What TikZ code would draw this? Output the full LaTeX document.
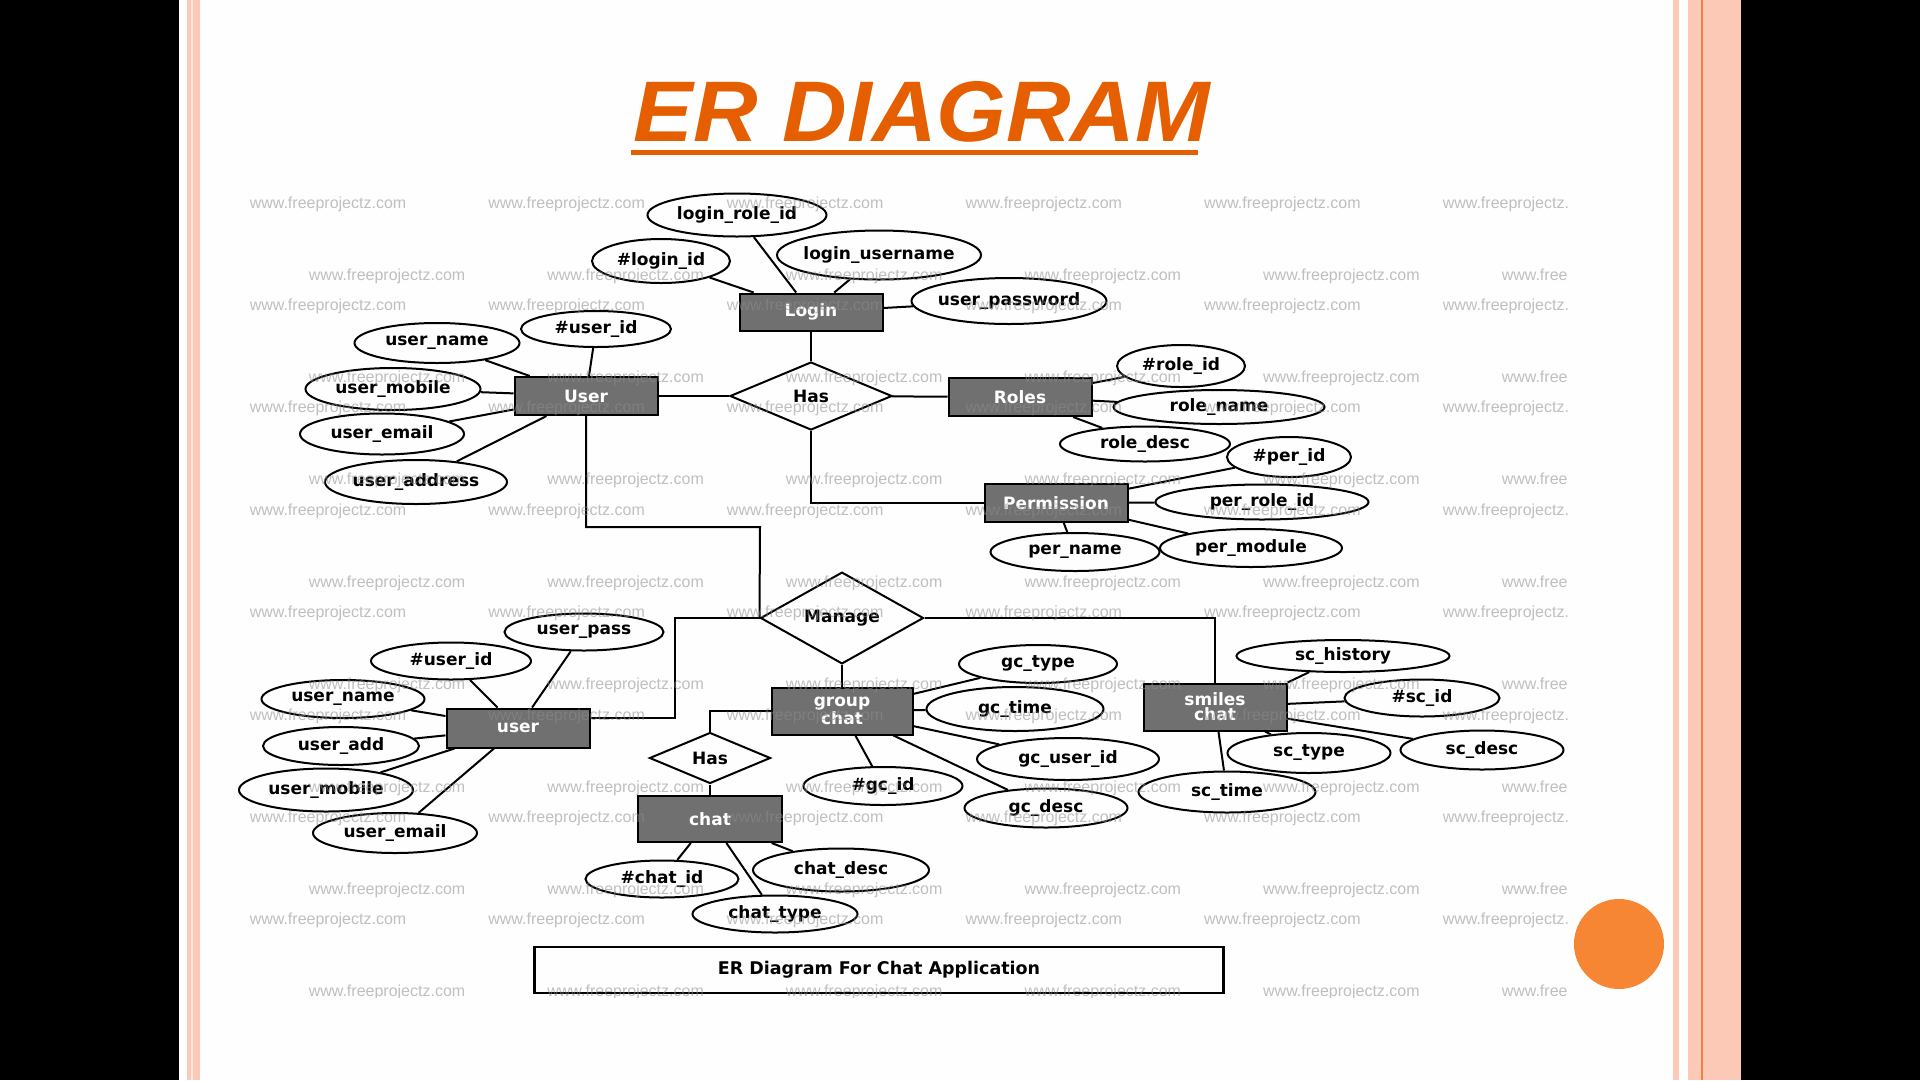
\documentclass[tikz,border=0pt]{standalone}
\usepackage{fontspec}
\setmainfont{DejaVu Sans}
\newfontfamily\titlefont{Liberation Sans}
\usetikzlibrary{shapes.geometric}

\definecolor{slideorange}{RGB}{229,94,0}
\definecolor{dotorange}{RGB}{246,133,52}
\definecolor{stripepink}{RGB}{252,201,182}
\definecolor{stripeline}{RGB}{240,130,70}
\definecolor{entitygray}{RGB}{112,112,112}
\definecolor{pagewhite}{RGB}{253,254,253}

\begin{document}
\begin{tikzpicture}[x=1pt, y=-1pt, line width=2pt,
    entity/.style={draw, fill=entitygray, text=white, align=center,
      font=\fontsize{17}{15}\selectfont\bfseries,
      minimum width=143pt, minimum height=38pt, inner sep=0pt},
    attrib/.style 2 args={draw, ellipse, inner xsep=-8pt, inner ysep=0pt,
      font=\fontsize{17}{17}\selectfont\bfseries,
      minimum width=#1, minimum height=#2},
    relation/.style={draw, diamond, inner sep=0pt,
      font=\fontsize{17}{17}\selectfont\bfseries},
    watermark/.style={text=black!45, text opacity=0.55,
      font=\titlefont\fontsize{16}{16}\selectfont}]
    \useasboundingbox (0,0) rectangle (1920,1080);
    \fill[black] (0,0) rectangle (1920,1080);
    \fill[pagewhite] (179,0) rectangle (1741,1080);
    \fill[stripepink] (187,0) rectangle (200,1080);
    \fill[pagewhite!60!stripepink] (191,0) rectangle (192.5,1080);
    \fill[stripepink] (1673,0) rectangle (1679,1080);
    \fill[stripepink] (1688,0) rectangle (1741,1080);
    \draw[stripeline, line width=1.5pt] (1702,0) -- (1702,1080);

    \node[inner sep=0pt, text=slideorange,
      font=\titlefont\fontsize{86}{86}\selectfont\bfseries\itshape] (title) at (922,112) {\scalebox{1.04}[1]{ER DIAGRAM}};
    \fill[slideorange] (631,150) rectangle (1198,155);

    \node[entity, minimum height=37pt] (login) at (811,312) {Login};
    \node[entity] (user) at (586,396) {User};
    \node[entity] (roles) at (1020,397) {Roles};
    \node[entity] (permission) at (1056,503) {Permission};
    \node[relation, minimum width=162pt, minimum height=68pt] (has1) at (811,396) {Has};

    \node[attrib={179pt}{43pt}] (loginrole) at (737,215) {login\_role\_id};
    \node[attrib={138pt}{44pt}] (loginid) at (661,261) {\#login\_id};
    \node[attrib={204pt}{49pt}] (loginuser) at (879,255) {login\_username};
    \node[attrib={195pt}{46pt}] (userpwd) at (1009,301) {user\_password};
    \node[attrib={150pt}{36pt}] (userid) at (596,329) {\#user\_id};
    \node[attrib={165pt}{40pt}] (username) at (437,343) {user\_name};
    \node[attrib={175pt}{42pt}] (usermobile) at (393,389) {user\_mobile};
    \node[attrib={164pt}{41pt}] (useremail) at (382,434) {user\_email};
    \node[attrib={182pt}{44pt}] (useraddr) at (416,482) {user\_address};
    \node[attrib={128pt}{42pt}] (roleid) at (1181,366) {\#role\_id};
    \node[attrib={211pt}{34pt}] (rolename) at (1219,407) {role\_name};
    \node[attrib={170pt}{35pt}] (roledesc) at (1145,444) {role\_desc};
    \node[attrib={124pt}{40pt}] (perid) at (1289,457) {\#per\_id};
    \node[attrib={213pt}{35pt}] (perroleid) at (1262,502) {per\_role\_id};
    \node[attrib={169pt}{38pt}] (pername) at (1075,552) {per\_name};
    \node[attrib={182pt}{38pt}] (permodule) at (1251,548) {per\_module};

    \node[relation, minimum width=163pt, minimum height=67pt] (manage) at (842,618) {Manage};
    \node[entity, minimum height=39pt] (user2) at (518,728) {user};
    \node[entity, minimum width=141pt, minimum height=47pt] (gchat) at (842,711) {group\\chat};
    \node[entity, minimum height=47pt] (smiles) at (1215,707) {smiles\\chat};
    \node[relation, minimum width=121pt, minimum height=51pt] (has2) at (710,758) {Has};
    \node[entity, minimum width=144pt, minimum height=46pt] (chat) at (710,819) {chat};

    \node[attrib={159pt}{37pt}] (userpass) at (584,632) {user\_pass};
    \node[attrib={160pt}{37pt}] (userid2) at (451,661) {\#user\_id};
    \node[attrib={163pt}{38pt}] (username2) at (343,699) {user\_name};
    \node[attrib={156pt}{38pt}] (useradd) at (341,746) {user\_add};
    \node[attrib={174pt}{43pt}] (usermobile2) at (326,790) {user\_mobile};
    \node[attrib={164pt}{40pt}] (useremail2) at (395,833) {user\_email};
    \node[attrib={158pt}{38pt}] (gctype) at (1038,664) {gc\_type};
    \node[attrib={177pt}{44pt}] (gctime) at (1015,709) {gc\_time};
    \node[attrib={182pt}{42pt}] (gcuserid) at (1068,759) {gc\_user\_id};
    \node[attrib={159pt}{38pt}] (gcid) at (883,786) {\#gc\_id};
    \node[attrib={163pt}{39pt}] (gcdesc) at (1046,808) {gc\_desc};
    \node[attrib={153pt}{37pt}] (chatid) at (662,879) {\#chat\_id};
    \node[attrib={176pt}{43pt}] (chatdesc) at (841,870) {chat\_desc};
    \node[attrib={165pt}{37pt}] (chattype) at (775,914) {chat\_type};
    \node[attrib={213pt}{32pt}] (schistory) at (1343,656) {sc\_history};
    \node[attrib={155pt}{37pt}] (scid) at (1422,698) {\#sc\_id};
    \node[attrib={163pt}{40pt}] (sctype) at (1309,753) {sc\_type};
    \node[attrib={163pt}{39pt}] (scdesc) at (1482,750) {sc\_desc};
    \node[attrib={177pt}{41pt}] (sctime) at (1227,792) {sc\_time};

    \node[draw, line width=2.5pt, minimum width=689pt, minimum height=46pt,
      font=\fontsize{17.5}{17.5}\selectfont\bfseries] (caption) at (879,970) {ER Diagram For Chat Application};

    \coordinate (ujoin) at (760,527);
    \coordinate (mjoin) at (675,618);

    \draw (loginid) -- (login);
    \draw (loginrole) -- (login);
    \draw (loginuser) -- (login);
    \draw (userpwd) -- (login);
    \draw (login) -- (has1);
    \draw (userid) -- (user);
    \draw (username) -- (user);
    \draw (usermobile) -- (user);
    \draw (useremail) -- (user);
    \draw (useraddr) -- (user);
    \draw (user) -- (has1);
    \draw (has1) -- (roles);
    \draw (roleid) -- (roles);
    \draw (rolename) -- (roles);
    \draw (roledesc) -- (roles);
    \draw (has1) |- (permission);
    \draw (perid) -- (permission);
    \draw (perroleid) -- (permission);
    \draw (permodule) -- (permission);
    \draw (pername) -- (permission);

    \draw (user) |- (ujoin) -- (manage.west);
    \draw (user2.8) -| (mjoin) -- (manage.west);
    \draw (manage) -- (gchat);
    \draw (manage) -| (smiles);
    \draw (gchat) -| (has2);
    \draw (has2) -- (chat);

    \draw (userpass) -- (user2);
    \draw (userid2) -- (user2);
    \draw (username2) -- (user2);
    \draw (useradd) -- (user2);
    \draw (usermobile2) -- (user2);
    \draw (useremail2) -- (user2);
    \draw (gctype) -- (gchat);
    \draw (gctime) -- (gchat);
    \draw (gcuserid) -- (gchat);
    \draw (gcdesc) -- (gchat);
    \draw (gcid) -- (gchat);
    \draw (chatid) -- (chat);
    \draw (chattype) -- (chat);
    \draw (chatdesc) -- (chat);
    \draw (schistory) -- (smiles.north east);
    \draw (scid) -- (smiles);
    \draw (scdesc) -- (smiles);
    \draw (sctype) -- (smiles);
    \draw (sctime) -- (smiles);

    \begin{scope}
      \clip (245,185) rectangle (1567,997);
      \foreach \r in {0,...,7}
        \foreach \c in {0,...,5} {
          \node[watermark] (marka-\r-\c) at ({328+238.6*\c},{204+102.4*\r}) {www.freeprojectz.com};
          \node[watermark] (markb-\r-\c) at ({387+238.6*\c},{276+102.4*\r}) {www.freeprojectz.com};
        }
    \end{scope}

    \fill[dotorange] (1619,944) circle[radius=45pt];
\end{tikzpicture}
\end{document}
